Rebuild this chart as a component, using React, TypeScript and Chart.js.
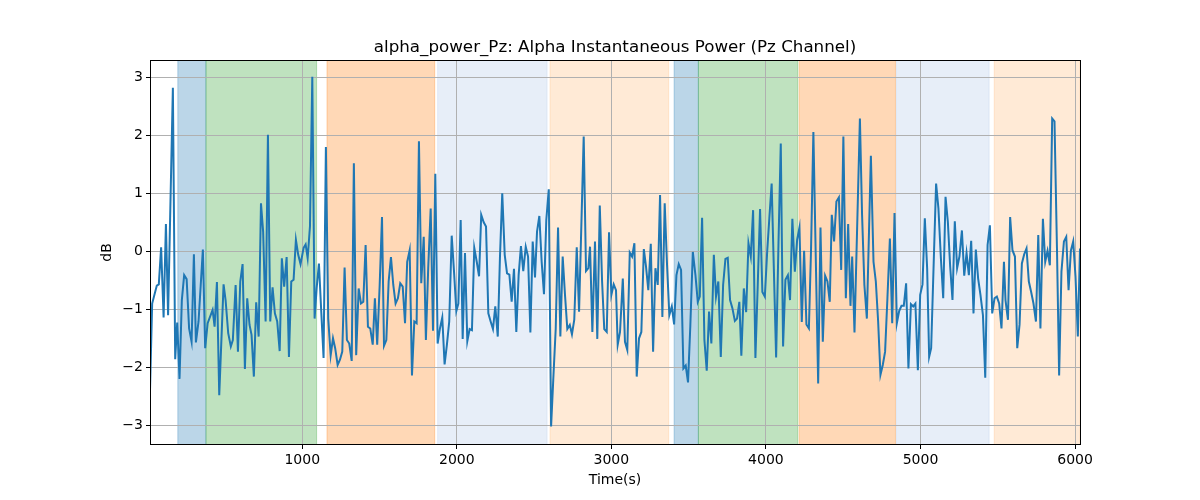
import { useEffect, useRef } from "react";
import { Chart, registerables } from "chart.js";

Chart.register(...registerables);

const TITLE = "alpha_power_Pz: Alpha Instantaneous Power (Pz Channel)";
const X_LABEL = "Time(s)";
const Y_LABEL = "dB";

const X_MIN = 15;
const X_MAX = 6032;
const Y_MIN = -3.34;
const Y_MAX = 3.3;
const X_TICKS = [1000, 2000, 3000, 4000, 5000, 6000];
const Y_TICKS = [-3, -2, -1, 0, 1, 2, 3];

const BAND_STARTS = [195, 377, 1160, 1876, 2603, 3406, 3563, 4215, 4843, 5477];
const BAND_ENDS = [377, 1093, 1857, 2584, 3371, 3563, 4206, 4838, 5444, 6032];
const BAND_KINDS = [0, 1, 2, 3, 4, 0, 1, 2, 3, 4];
const BAND_COLORS = [
  "rgba(31,119,180,0.3)",
  "rgba(44,160,44,0.3)",
  "rgba(255,127,14,0.3)",
  "rgba(174,199,232,0.3)",
  "rgba(255,187,120,0.3)",
];

const TIMES = [
  15, 29, 59, 72, 87, 103, 118, 132, 163, 178, 191, 206, 221, 236, 252, 268, 284, 299, 312, 329,
  357, 372, 388, 420, 433, 448, 463, 491, 504, 521, 538, 551, 569, 584, 599, 614, 629, 644, 659, 672,
  687, 702, 718, 733, 747, 763, 778, 793, 808, 823, 838, 854, 868, 883, 899, 914, 929, 944, 959, 974,
  989, 1009, 1022, 1035, 1050, 1065, 1080, 1093, 1108, 1123, 1138, 1153, 1168, 1184, 1199, 1213, 1229, 1244, 1259, 1274,
  1289, 1304, 1320, 1334, 1349, 1365, 1380, 1395, 1410, 1425, 1440, 1456, 1470, 1485, 1501, 1516, 1529, 1544, 1559, 1574,
  1589, 1604, 1619, 1634, 1650, 1665, 1679, 1695, 1710, 1725, 1740, 1755, 1770, 1786, 1800, 1815, 1831, 1846, 1861, 1876,
  1891, 1906, 1921, 1936, 1951, 1967, 1982, 1997, 2010, 2025, 2038, 2053, 2068, 2083, 2098, 2113, 2129, 2144, 2158, 2174,
  2189, 2204, 2219, 2234, 2249, 2265, 2279, 2294, 2310, 2325, 2340, 2355, 2370, 2385, 2400, 2415, 2430, 2446, 2461, 2476,
  2491, 2506, 2519, 2534, 2549, 2564, 2579, 2595, 2610, 2624, 2640, 2655, 2670, 2685, 2700, 2715, 2731, 2745, 2760, 2776,
  2791, 2821, 2836, 2851, 2862, 2877, 2894, 2909, 2925, 2940, 2954, 2970, 2985, 3000, 3015, 3030, 3041, 3056, 3074, 3088,
  3103, 3119, 3134, 3149, 3164, 3179, 3194, 3210, 3224, 3239, 3255, 3270, 3285, 3300, 3315, 3330, 3345, 3360, 3375, 3391,
  3406, 3421, 3436, 3451, 3466, 3481, 3496, 3511, 3527, 3544, 3559, 3572, 3587, 3602, 3617, 3632, 3647, 3663, 3677, 3692,
  3708, 3723, 3738, 3753, 3768, 3783, 3799, 3813, 3828, 3841, 3857, 3872, 3887, 3902, 3917, 3932, 3947, 3962, 3977, 3993,
  4008, 4022, 4037, 4066, 4081, 4096, 4111, 4126, 4142, 4156, 4171, 4187, 4202, 4217, 4232, 4247, 4262, 4278, 4292, 4307,
  4323, 4338, 4353, 4368, 4383, 4398, 4413, 4426, 4441, 4456, 4472, 4487, 4501, 4517, 4532, 4547, 4558, 4573, 4608, 4622,
  4637, 4653, 4679, 4696, 4711, 4726, 4741, 4756, 4771, 4786, 4802, 4817, 4832, 4847, 4862, 4877, 4892, 4907, 4922, 4938,
  4953, 4967, 4983, 4998, 5013, 5028, 5043, 5056, 5069, 5087, 5101, 5116, 5132, 5147, 5162, 5177, 5192, 5207, 5222, 5237,
  5252, 5268, 5283, 5298, 5313, 5328, 5343, 5358, 5373, 5388, 5404, 5419, 5434, 5449, 5464, 5479, 5494, 5509, 5524, 5540,
  5550, 5566, 5580, 5595, 5611, 5626, 5641, 5656, 5671, 5686, 5701, 5716, 5731, 5747, 5762, 5776, 5792, 5807, 5822, 5837,
  5852, 5867, 5883, 5897, 5912, 5928, 5943, 5958, 5973, 5988, 6003, 6018, 6032,
];

const VALUES = [
  -2.4, -0.9, -0.59, -0.57, 0.07, -1.14, 0.47, -1.1, 2.82, -1.86, -1.23, -2.2, -0.84, -0.41, -0.48, -1.33, -1.56, -0.05, -1.57, -1.21,
  0.03, -1.67, -1.24, -1.01, -1.3, -0.53, -2.48, -0.57, -0.84, -1.41, -1.64, -1.53, -0.58, -1.73, -0.52, -0.22, -2.03, -0.81, -1.27, -1.44,
  -2.16, -0.88, -1.47, 0.83, 0.34, -1.21, 2.01, -1.21, -0.62, -1.07, -1.21, -1.72, -0.12, -0.61, -0.1, -1.82, -0.52, -0.49, 0.2, -0.06,
  -0.22, 0.06, 0.12, -0.12, 0.43, 3.01, -1.16, -0.64, -0.21, -1.04, -1.84, 1.8, -1.16, -1.79, -1.5, -1.67, -1.96, -1.87, -1.73, -0.28,
  -1.53, -1.59, -1.89, 1.52, -1.79, -0.64, -0.9, -0.87, 0.11, -1.3, -1.33, -1.61, -0.81, -1.61, -0.58, 0.59, -1.63, -1.53, -0.52, -0.1,
  -0.58, -0.9, -0.81, -0.55, -0.61, -1.24, -0.18, 0.02, -2.14, -1.21, -1.24, 1.9, -0.55, 0.25, -1.53, -0.29, 0.74, -1.37, 1.34, -1.59,
  -1.33, -1.14, -1.95, -1.61, -1.21, 0.27, -0.35, -1.03, -0.9, 0.54, -1.51, -0.03, -1.55, -1.34, -1.36, 0.06, -0.18, -0.43, 0.63, 0.5,
  0.43, -1.07, -1.21, -1.34, -0.95, -1.47, -0.12, 1.0, -0.06, -0.38, -0.4, -0.87, -0.3, -1.39, -0.41, 0.09, -0.34, 0.08, -0.09, -1.4,
  0.17, -0.45, 0.34, 0.61, -0.18, -0.74, 0.54, 1.07, -3.02, -2.22, -1.33, 0.41, -1.47, -0.09, -0.75, -1.34, -1.27, -1.43, -1.18, 0.07,
  -1.04, 1.98, -0.34, -0.29, 0.08, -1.39, 0.17, -1.51, 0.79, -0.52, -1.34, -1.39, 0.33, -0.75, -0.57, -0.67, -1.61, -1.39, -0.47, -1.56,
  -1.7, -0.02, -0.09, 0.14, -2.16, -1.5, -1.39, 0.04, -0.26, -0.67, 0.13, -1.73, -0.29, -0.58, 0.97, -1.13, 0.83, -0.22, -1.1, -0.95,
  -1.26, -0.41, -0.22, -0.32, -2.02, -1.97, -2.26, -1.27, -0.01, -0.41, -0.87, -0.78, 0.58, -1.53, -2.06, -1.04, -1.59, -0.06, -0.78, -0.52,
  -1.82, -0.58, -0.13, -0.11, -0.84, -0.98, -1.2, -1.16, -0.87, -1.8, -0.64, -1.05, 0.14, -0.09, 0.71, -1.84, -0.58, 0.73, -0.7, -0.78,
  -0.01, 0.57, 1.17, -1.83, 0.11, 1.86, -1.64, -0.49, -0.41, -0.84, 0.56, -0.35, 0.2, 0.41, -1.22, 0.01, -1.26, -1.33, 0.05, 2.06,
  -0.18, -2.28, 0.41, -1.56, -0.42, -0.52, -0.87, 0.63, 0.17, 0.86, 0.93, -0.32, 1.98, -0.81, 0.47, -0.94, -0.09, -1.4, 2.29, 0.63,
  -0.58, -1.16, 1.65, -0.18, -0.52, -1.21, -2.13, -1.96, -1.73, -0.81, 0.22, -1.24, 0.66, -1.24, -1.03, -0.94, -0.94, -0.55, -2.02, -0.91,
  -0.95, -0.9, -2.05, -0.75, -0.57, 0.57, -0.29, -1.82, -1.67, -0.06, 1.17, 0.74, -0.12, -0.81, 0.94, 0.51, -0.26, -0.84, 0.52, -0.29,
  -0.09, 0.36, -0.42, -0.03, -0.41, 0.18, -1.07, 0.03, -0.47, -0.75, -1.1, -2.18, 0.11, 0.45, -1.07, -0.81, -0.78, -0.9, -1.33, -0.18,
  -0.84, -1.18, 0.59, 0.02, -0.09, -1.67, -1.26, -0.21, -0.05, 0.05, -0.52, -0.7, -0.9, -1.21, 0.28, -1.33, 0.56, -0.18, 0.01, -0.24,
  2.29, 2.24, 0.05, -2.14, -0.35, 0.17, 0.25, -0.67, 0.01, 0.17, -0.44, -1.47, 0.05,
];

const FONT = "'DejaVu Sans', sans-serif";

const decorPlugin = {
  id: "decor",
  beforeDraw(chart: any) {
    const { ctx, chartArea } = chart;
    const xs = chart.scales.x;
    ctx.save();
    ctx.beginPath();
    ctx.rect(chartArea.left, chartArea.top, chartArea.right - chartArea.left, chartArea.bottom - chartArea.top);
    ctx.clip();
    BAND_STARTS.forEach((s, i) => {
      const x0 = xs.getPixelForValue(s);
      const x1 = xs.getPixelForValue(BAND_ENDS[i]);
      const color = BAND_COLORS[BAND_KINDS[i]];
      ctx.fillStyle = color;
      ctx.fillRect(x0, chartArea.top, x1 - x0, chartArea.bottom - chartArea.top);
      ctx.strokeStyle = color;
      ctx.lineWidth = 1;
      ctx.beginPath();
      ctx.moveTo(x0, chartArea.top);
      ctx.lineTo(x0, chartArea.bottom);
      ctx.moveTo(x1, chartArea.top);
      ctx.lineTo(x1, chartArea.bottom);
      ctx.stroke();
    });
    ctx.restore();
  },
  afterDraw(chart: any) {
    const { ctx, chartArea } = chart;
    const l = chartArea.left, r = chartArea.right, t = chartArea.top, b = chartArea.bottom;
    ctx.save();
    ctx.strokeStyle = "#000";
    ctx.lineWidth = 1;
    ctx.strokeRect(Math.round(l) + 0.5, Math.round(t) + 0.5, Math.round(r - l), Math.round(b - t) - 1);
    ctx.fillStyle = "#000";
    ctx.font = `16.7px ${FONT}`;
    ctx.textAlign = "center";
    ctx.textBaseline = "alphabetic";
    ctx.fillText(TITLE, (l + r) / 2, t - 8);
    ctx.font = `14px ${FONT}`;
    ctx.textBaseline = "top";
    ctx.fillText(X_LABEL, (l + r) / 2, 473);
    ctx.translate(107, (t + b) / 2);
    ctx.rotate(-Math.PI / 2);
    ctx.textBaseline = "middle";
    ctx.fillText(Y_LABEL, 0, 0);
    ctx.restore();
  },
};

export default function App() {
  const ref = useRef<HTMLCanvasElement | null>(null);
  useEffect(() => {
    if (!ref.current) return;
    const chart = new Chart(ref.current, {
      type: "line",
      data: {
        datasets: [
          {
            data: TIMES.map((t, i) => ({ x: t, y: VALUES[i] })),
            borderColor: "#1f77b4",
            borderWidth: 2,
            pointRadius: 0,
            tension: 0,
            fill: false,
          },
        ],
      },
      options: {
        animation: false,
        responsive: false,
        events: [],
        layout: { padding: { top: 60, right: 120, bottom: 0, left: 0 } },
        plugins: { legend: { display: false }, tooltip: { enabled: false }, title: { display: false } },
        scales: {
          x: {
            type: "linear",
            min: X_MIN,
            max: X_MAX,
            border: { display: false },
            grid: { color: "#b0b0b0", lineWidth: 1, tickColor: "#000", tickLength: 4, tickWidth: 1 },
            ticks: {
              color: "#000",
              font: { family: FONT, size: 14 },
              padding: 3,
              maxRotation: 0,
              autoSkip: false,
              callback: (v: any) => String(v),
            },
            afterBuildTicks: (s: any) => {
              s.ticks = X_TICKS.map((v) => ({ value: v }));
            },
            afterFit: (s: any) => {
              s.height = 55;
            },
          },
          y: {
            type: "linear",
            min: Y_MIN,
            max: Y_MAX,
            border: { display: false },
            grid: { color: "#b0b0b0", lineWidth: 1, tickColor: "#000", tickLength: 4, tickWidth: 1 },
            ticks: {
              color: "#000",
              font: { family: FONT, size: 14 },
              padding: 3,
              autoSkip: false,
              callback: (v: any) => String(v).replace("-", "\u2212"),
            },
            afterBuildTicks: (s: any) => {
              s.ticks = Y_TICKS.map((v) => ({ value: v }));
            },
            afterFit: (s: any) => {
              s.width = 150;
            },
          },
        },
      },
      plugins: [decorPlugin],
    });
    return () => chart.destroy();
  }, []);
  return (
    <div style={{ position: "absolute", left: 0, top: 0, width: 1200, height: 500, background: "#fff" }}>
      <canvas ref={ref} width={1200} height={500} style={{ display: "block", width: 1200, height: 500 }} />
    </div>
  );
}
